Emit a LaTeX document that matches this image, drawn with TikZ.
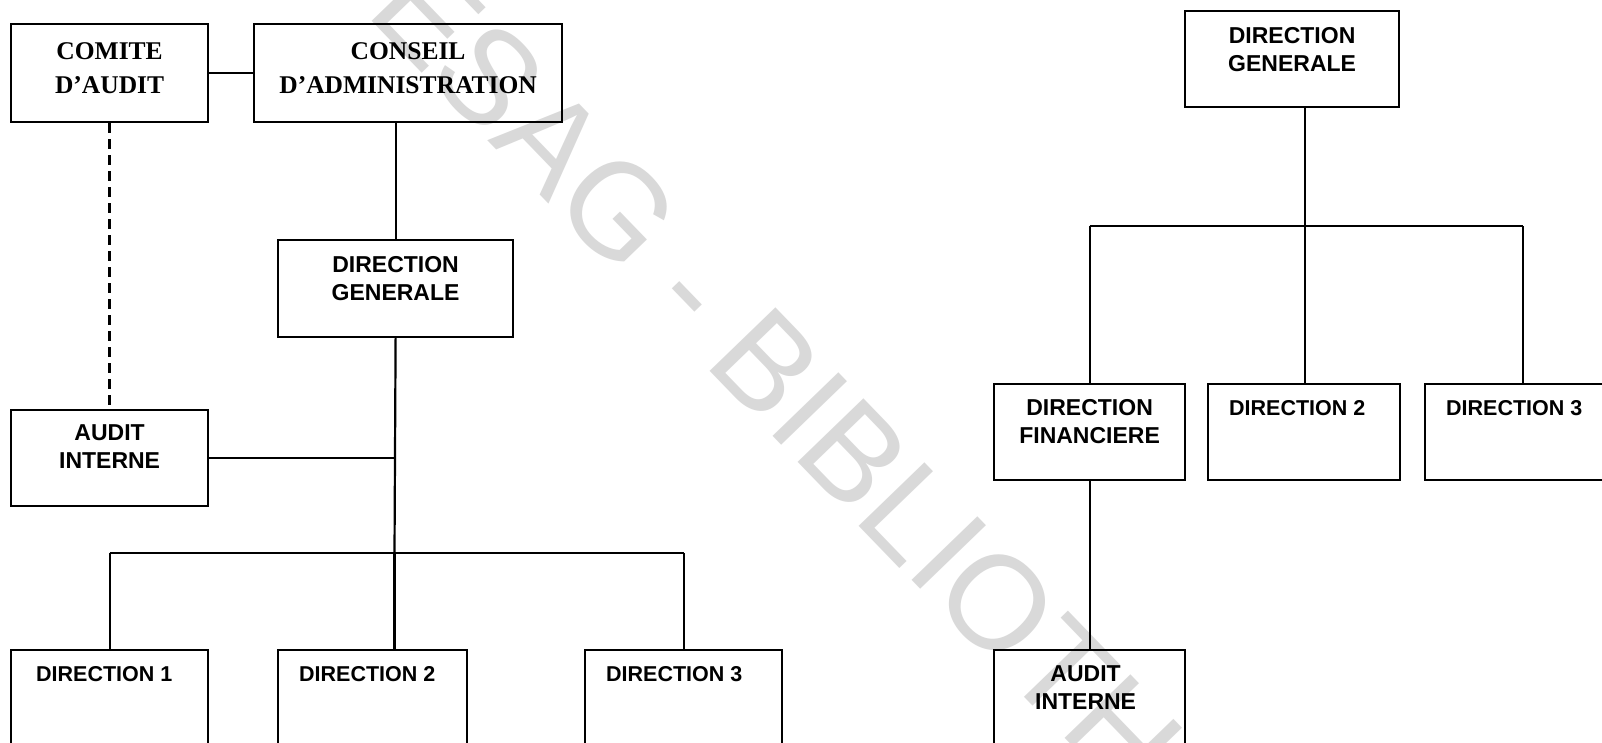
\documentclass[tikz,border=0pt]{standalone}
\usepackage{fontspec}
\setmainfont{Liberation Serif}
\newfontfamily\sansf{Liberation Sans}
\usetikzlibrary{calc}
\begin{document}
\begin{tikzpicture}[x=1pt,y=-1pt,
  box/.style={draw, line width=2.2pt, rectangle, inner sep=0pt, anchor=north west},
  conn/.style={line width=2.2pt},
  dashconn/.style={line width=2.4pt, dash pattern=on 10pt off 6pt},
  serifl/.style={anchor=north, inner sep=0pt, align=center, font=\bfseries\fontsize{25.5}{34}\selectfont},
  sansl/.style={anchor=north, inner sep=0pt, align=center, font=\sansf\bfseries\fontsize{23}{28.5}\selectfont},
  sing/.style={anchor=north west, inner sep=0pt, font=\sansf\bfseries\fontsize{21.5}{26}\selectfont},
  wmark/.style={rotate=-46, inner sep=0pt, text=black!15, font=\sansf\fontsize{133}{133}\selectfont}]
\useasboundingbox (0,0) rectangle (1602,742);
\clip (0,0) rectangle (1602,742);
\fill[white] (0,0) rectangle (1602,742);
% watermark
\node[wmark] (wm) at (866,484) {CESAG - BIBLIOTHEQUE};
% left chart boxes
\node[box, minimum width=197pt, minimum height=98pt] (comite) at (10,23) {};
\node[box, minimum width=308pt, minimum height=98pt] (conseil) at (253,23) {};
\node[box, minimum width=235pt, minimum height=97pt] (dgL) at (277,239) {};
\node[box, minimum width=197pt, minimum height=96pt] (auditL) at (10,409) {};
\node[box, minimum width=197pt, minimum height=160pt] (d1) at (10,649) {};
\node[box, minimum width=189pt, minimum height=160pt] (d2) at (277,649) {};
\node[box, minimum width=197pt, minimum height=160pt] (d3) at (584,649) {};
% right chart boxes
\node[box, minimum width=214pt, minimum height=96pt] (dgR) at (1184,10) {};
\node[box, minimum width=191pt, minimum height=96pt] (dfin) at (993,383) {};
\node[box, minimum width=192pt, minimum height=96pt] (r2) at (1207,383) {};
\node[box, minimum width=196pt, minimum height=96pt] (r3) at (1424,383) {};
\node[box, minimum width=191pt, minimum height=160pt] (auditR) at (993,649) {};
% texts
\node[serifl] (comiteT) at ($(comite.north)+(0,19)$) {COMITE\\D’AUDIT};
\node[serifl] (conseilT) at ($(conseil.north)+(0,19)$) {CONSEIL\\D’ADMINISTRATION};
\node[sansl] (dgLT) at ($(dgL.north)+(0,17)$) {DIRECTION\\GENERALE};
\node[sansl] (auditLT) at ($(auditL.north)+(0,15)$) {AUDIT\\INTERNE};
\node[sing] (d1T) at ($(d1.north west)+(26,17)$) {DIRECTION 1};
\node[sing] (d2T) at ($(d2.north west)+(22,17)$) {DIRECTION 2};
\node[sing] (d3T) at ($(d3.north west)+(22,17)$) {DIRECTION 3};
\node[sansl] (dgRT) at ($(dgR.north)+(0,17)$) {DIRECTION\\GENERALE};
\node[sansl] (dfinT) at ($(dfin.north)+(0,16)$) {DIRECTION\\FINANCIERE};
\node[sing] (r2T) at ($(r2.north west)+(22,17)$) {DIRECTION 2};
\node[sing] (r3T) at ($(r3.north west)+(22,17)$) {DIRECTION 3};
\node[sansl] (auditRT) at ($(auditR.north)+(-4,16)$) {AUDIT\\INTERNE};
% junctions
\coordinate (jL) at (394.5,553);
\coordinate (jR) at (1305,226);
% left connectors
\draw[conn] (comite.east) -- (conseil.west);
\draw[dashconn] (comite.south) -- (auditL.north);
\draw[conn] (dgL.north |- conseil.south) -- (dgL.north);
\draw[conn] (dgL.south) -- (jL);
\draw[conn] (auditL.east) -- (auditL.east -| dgL.south);
\draw[conn] (d1.north |- jL) -- (d3.north |- jL);
\draw[conn] (d1.north |- jL) -- (d1.north);
\draw[conn] (jL) -- (jL |- d2.north);
\draw[conn] (d3.north |- jL) -- (d3.north);
% right connectors
\draw[conn] (jR |- dgR.south) -- (jR);
\draw[conn] (dfin.north |- jR) -- (r3.north |- jR);
\draw[conn] (dfin.north |- jR) -- (dfin.north);
\draw[conn] (jR) -- (jR |- r2.north);
\draw[conn] (r3.north |- jR) -- (r3.north);
\draw[conn] (dfin.south) -- (auditR.north);
\end{tikzpicture}
\end{document}
